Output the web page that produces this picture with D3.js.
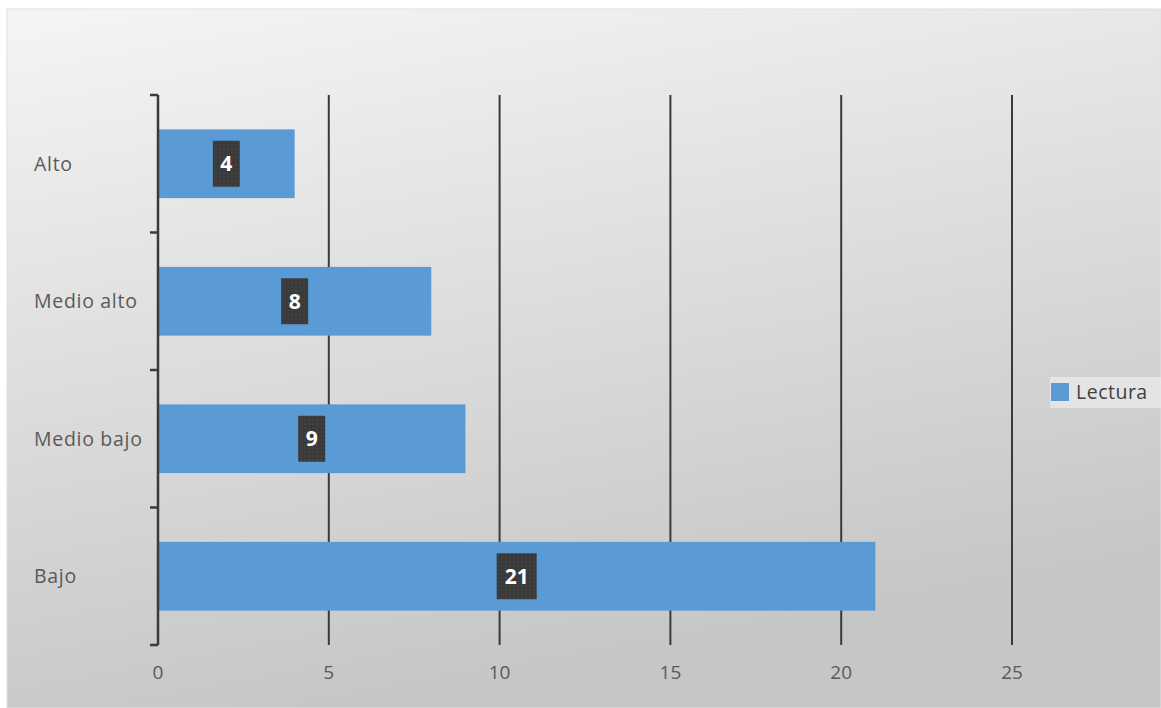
<!DOCTYPE html>
<html><head><meta charset="utf-8">
<script src="https://cdn.jsdelivr.net/npm/d3@7"></script>
<style>html,body{margin:0;padding:0;background:#fff;}svg{display:block;}</style>
</head><body>
<script>
const categories = ["Alto", "Medio alto", "Medio bajo", "Bajo"];
const values = [4, 8, 9, 21];
const xTicks = [0, 5, 10, 15, 20, 25];
const seriesName = "Lectura";

const W = 1161, H = 708;
const svg = d3.select("body").append("svg").attr("width", W).attr("height", H);
const defs = svg.append("defs");
const g1 = defs.append("linearGradient").attr("id","bg").attr("x1","0%").attr("y1","0%").attr("x2","30%").attr("y2","100%");
g1.append("stop").attr("offset","0%").attr("stop-color","#f5f5f5");
g1.append("stop").attr("offset","100%").attr("stop-color","#c6c6c6");
const pat = defs.append("pattern").attr("id","dots").attr("width",4).attr("height",4).attr("patternUnits","userSpaceOnUse");
pat.append("rect").attr("width",4).attr("height",4).attr("fill","#3a3a3a");
pat.append("rect").attr("x",1).attr("y",1).attr("width",1).attr("height",1).attr("fill","#555");

svg.append("rect").attr("x",7).attr("y",9).attr("width",W-7).attr("height",H-9).attr("fill","url(#bg)")
  .attr("stroke","#e0e0e0").attr("stroke-width",1);

const font = "'Open Sans', 'Noto Sans', sans-serif";
const x = d3.scaleLinear().domain([0,25]).range([158,1012]);
const y = d3.scaleBand().domain(categories).range([95,645]).paddingInner(0.5).paddingOuter(0.25);

// gridlines
svg.append("g").selectAll("line").data(xTicks.filter(d=>d>0)).join("line")
  .attr("x1",d=>x(d)).attr("x2",d=>x(d)).attr("y1",95).attr("y2",645)
  .attr("stroke","#3a3a3a").attr("stroke-width",2);

// bars
svg.append("g").selectAll("rect").data(values).join("rect")
  .attr("x",x(0)).attr("y",(d,i)=>y(categories[i]))
  .attr("width",d=>x(d)-x(0)).attr("height",y.bandwidth())
  .attr("fill","#5b9bd5");

// y axis
const yAxisG = svg.append("g");
yAxisG.append("line").attr("x1",158).attr("x2",158).attr("y1",95).attr("y2",645)
  .attr("stroke","#3a3a3a").attr("stroke-width",2.5);
const step = (645-95)/categories.length;
const tickYs = d3.range(categories.length+1).map(i=>95+i*step);
yAxisG.selectAll("line.tk").data(tickYs).join("line").attr("class","tk")
  .attr("x1",150).attr("x2",158).attr("y1",d=>d).attr("y2",d=>d)
  .attr("stroke","#3a3a3a").attr("stroke-width",2.5);
yAxisG.selectAll("text").data(categories).join("text")
  .attr("x",34).attr("y",d=>y(d)+y.bandwidth()/2).attr("dy","0.35em")
  .attr("font-family",font).attr("font-size",19.5).attr("letter-spacing",0.7).attr("fill","#595959").text(d=>d);

// x tick labels
svg.append("g").selectAll("text").data(xTicks).join("text")
  .attr("x",d=>x(d)).attr("y",679).attr("text-anchor","middle")
  .attr("font-family",font).attr("font-size",19).attr("fill","#595959").text(d=>d);

// data labels
const lab = svg.append("g").selectAll("g").data(values).join("g")
  .attr("transform",(d,i)=>`translate(${(x(0)+x(d))/2},${y(categories[i])+y.bandwidth()/2})`);
lab.append("rect")
  .attr("x",d=>-(String(d).length>1?20:13.5)).attr("y",-23)
  .attr("width",d=>String(d).length>1?40:27).attr("height",46)
  .attr("fill","url(#dots)");
lab.append("text").attr("text-anchor","middle").attr("dy","0.36em")
  .attr("font-family",font).attr("font-weight","bold").attr("font-size",21).attr("fill","#fff").text(d=>d);

// legend
const lg = svg.append("g");
lg.append("rect").attr("x",1050).attr("y",377).attr("width",111).attr("height",31).attr("fill","#ececec").attr("opacity",0.7);
lg.append("rect").attr("x",1051).attr("y",383).attr("width",18).attr("height",18).attr("fill","#5b9bd5");
lg.append("text").attr("x",1076).attr("y",392).attr("dy","0.35em")
  .attr("font-family",font).attr("font-size",19.5).attr("letter-spacing",0.5).attr("fill","#404040").text(seriesName);
</script>
</body></html>
